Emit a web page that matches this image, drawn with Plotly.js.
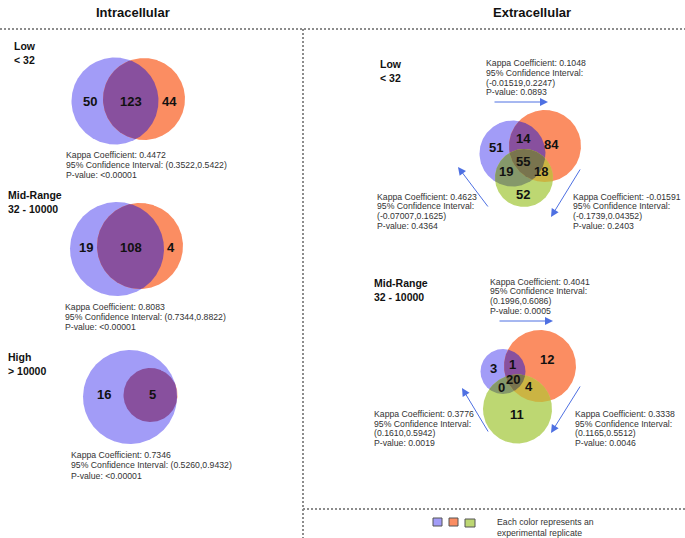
<!DOCTYPE html>
<html>
<head>
<meta charset="utf-8">
<script src="https://cdn.plot.ly/plotly-3.0.1.min.js"></script>
<style>html,body{margin:0;padding:0;background:#fff;}#chart{width:685px;height:538px;}</style>
</head>
<body>
<div id="chart"></div>
<script>
// ---------------- DATA ----------------
const panelTitles = ['Intracellular', 'Extracellular'];

const intraGroups = ['Low', 'Mid-Range', 'High'];
const intraRanges = ['< 32', '32 - 10000', '> 10000'];
const intraOnlyA  = [50, 19, 16];
const intraShared = [123, 108, 5];
const intraOnlyB  = [44, 4, null];
const intraKappa  = ['0.4472', '0.8083', '0.7346'];
const intraCI     = ['(0.3522,0.5422)', '(0.7344,0.8822)', '(0.5260,0.9432)'];
const intraP      = ['<0.00001', '<0.00001', '<0.00001'];

const extGroups   = ['Low', 'Mid-Range'];
const extRanges   = ['< 32', '32 - 10000'];
const extRegions  = ['A', 'AB', 'B', 'ABC', 'AC', 'BC', 'C'];
const extLowCounts = [51, 14, 84, 55, 19, 18, 52];
const extMidCounts = [3, 1, 12, 20, 0, 4, 11];
// comparisons: top (rep1 vs rep2), right (rep2 vs rep3), left (rep3 vs rep1)
const extLowKappa = ['0.1048', '-0.01591', '0.4623'];
const extLowCI    = ['(-0.01519,0.2247)', '(-0.1739,0.04352)', '(-0.07007,0.1625)'];
const extLowP     = ['0.0893', '0.2403', '0.4364'];
const extMidKappa = ['0.4041', '0.3338', '0.3776'];
const extMidCI    = ['(0.1996,0.6086)', '(0.1165,0.5512)', '(0.1610,0.5942)'];
const extMidP     = ['0.0005', '0.0046', '0.0019'];

const legendText = ['Each color represents an', 'experimental replicate'];

// ---------------- STYLE / LAYOUT CONFIG ----------------
const FONT = 'Liberation Sans, Arial, sans-serif';
const COL = {A: '#a29cf7', B: '#fb8d62', C: '#bdd772',
             AB: '#88509e', AC: '#85986a', BC: '#cbb443', ABC: '#79744e'};

const intraGeom = [
  {A: [115, 101, 43.5], B: [144, 99, 41], lab: [[90,101],[131,101],[169,101]], txt: [64, 154.5], grp: [12, 46]},
  {A: [117, 249, 47],   B: [140, 246, 43], lab: [[86,247],[131,247],[171,247]], txt: [63, 306.5], grp: [6, 195]},
  {A: [130, 397, 47],   B: [150.5, 395, 27], lab: [[104,394],[152,394],[0,0]], txt: [69, 455], grp: [6, 357]}
];
const extGeom = [
  {A: [512.5, 153.5, 33], B: [545, 146, 36], C: [524, 178, 29],
   lab: {A:[496,147], AB:[523,138], B:[551,144], ABC:[523,161], AC:[506,171], BC:[541,171], C:[523,194]},
   txt: [[484, 63.3], [570.7, 196.7], [375, 196.7]],
   arrows: [[493,102,548,102],[581,168,551,217],[489,208,458,167]], grp: [378, 64]},
  {A: [503, 371.5, 22.5], B: [540, 366, 36], C: [517.5, 409, 34.5],
   lab: {A:[493,368], AB:[512,364], B:[547,359], ABC:[513,379], AC:[501,387], BC:[529,386], C:[517,414]},
   txt: [[488, 281.7], [573, 414], [372, 414]],
   arrows: [[498,321,553,321],[581,385,551,433],[489,433,462,388]], grp: [372, 283]}
];

// ---------------- HELPERS ----------------
function inside(p, c) { const dx = p[0]-c[0], dy = p[1]-c[1]; return dx*dx + dy*dy <= c[2]*c[2] + 1e-6; }
function regionPoly(circles) {
  const N = 720, pts = [];
  circles.forEach((c, i) => {
    for (let k = 0; k < N; k++) {
      const t = 2*Math.PI*k/N;
      const p = [c[0] + c[2]*Math.cos(t), c[1] + c[2]*Math.sin(t)];
      if (circles.every((o, j) => j === i || inside(p, o))) pts.push(p);
    }
  });
  if (!pts.length) return null;
  const cx = pts.reduce((s,p)=>s+p[0],0)/pts.length, cy = pts.reduce((s,p)=>s+p[1],0)/pts.length;
  pts.sort((a,b) => Math.atan2(a[1]-cy, a[0]-cx) - Math.atan2(b[1]-cy, b[0]-cx));
  pts.push(pts[0]);
  return {x: pts.map(p=>p[0]), y: pts.map(p=>p[1])};
}
const traces = [];
function addRegion(circles, color) {
  const poly = regionPoly(circles);
  if (!poly) return;
  traces.push({type: 'scatter', mode: 'lines', x: poly.x, y: poly.y, fill: 'toself',
    fillcolor: color, line: {width: 0, color: 'rgba(0,0,0,0)'}, hoverinfo: 'skip', showlegend: false});
}
const annotations = [];
function txt(x, y, text, size, opts) {
  annotations.push(Object.assign({x, y, xref: 'x', yref: 'y', text: text, showarrow: false,
    xanchor: 'left', yanchor: 'middle', font: {family: FONT, size: size, color: '#2a2a2a'}}, opts || {}));
}
function statBlock(x, y, lines, gap) {
  lines.forEach((l, i) => txt(x, y + i*gap, l, 8.7, {font: {family: FONT, size: 8.7, color: '#333'}}));
}
function groupLabel(x, y, a, b) {
  txt(x, y, '<b>' + a + '</b>', 10.5, {font: {family: FONT, size: 10.5, color: '#111'}});
  txt(x, y + 13.5, '<b>' + b + '</b>', 10.5, {font: {family: FONT, size: 10.5, color: '#111'}});
}
function count(x, y, v) {
  if (v === null || v === undefined) return;
  txt(x, y, '<b>' + v + '</b>', 13, {xanchor: 'center', font: {family: FONT, size: 13, color: '#111'}});
}

// ---------------- INTRACELLULAR ----------------
intraGroups.forEach((g, i) => {
  const G = intraGeom[i];
  if (i === 2) { addRegion([G.B], COL.B); addRegion([G.A], COL.A); }
  else { addRegion([G.A], COL.A); addRegion([G.B], COL.B); }
  addRegion([G.A, G.B], COL.AB);
  count(G.lab[0][0], G.lab[0][1], intraOnlyA[i]);
  count(G.lab[1][0], G.lab[1][1], intraShared[i]);
  count(G.lab[2][0], G.lab[2][1], intraOnlyB[i]);
  groupLabel(G.grp[0], G.grp[1], g, intraRanges[i]);
  statBlock(G.txt[0], G.txt[1], ['Kappa Coefficient: ' + intraKappa[i],
    '95% Confidence Interval: ' + intraCI[i], 'P-value: ' + intraP[i]], 10.3);
});

// ---------------- EXTRACELLULAR ----------------
const extCounts = [extLowCounts, extMidCounts];
const extK = [extLowKappa, extMidKappa], extC = [extLowCI, extMidCI], extPv = [extLowP, extMidP];
extGroups.forEach((g, i) => {
  const G = extGeom[i];
  addRegion([G.A], COL.A); addRegion([G.B], COL.B); addRegion([G.C], COL.C);
  addRegion([G.A, G.B], COL.AB); addRegion([G.A, G.C], COL.AC); addRegion([G.B, G.C], COL.BC);
  addRegion([G.A, G.B, G.C], COL.ABC);
  extRegions.forEach((r, k) => count(G.lab[r][0], G.lab[r][1], extCounts[i][k]));
  groupLabel(G.grp[0], G.grp[1], g, extRanges[i]);
  for (let k = 0; k < 3; k++) {
    statBlock(G.txt[k][0], G.txt[k][1], ['Kappa Coefficient: ' + extK[i][k],
      '95% Confidence Interval:', extC[i][k], 'P-value: ' + extPv[i][k]], 9.6);
    const a = G.arrows[k];
    annotations.push({x: a[2], y: a[3], ax: a[0], ay: a[1], xref: 'x', yref: 'y', axref: 'x', ayref: 'y',
      text: '', showarrow: true, arrowhead: 2, arrowsize: 1.6, arrowwidth: 1, arrowcolor: '#4e70e2', standoff: 0, startstandoff: 0});
  }
});

// ---------------- TITLES / LEGEND ----------------
txt(133, 12, '<b>' + panelTitles[0] + '</b>', 13, {xanchor: 'center', font: {family: FONT, size: 13, color: '#111'}});
txt(532, 12, '<b>' + panelTitles[1] + '</b>', 13, {xanchor: 'center', font: {family: FONT, size: 13, color: '#111'}});
statBlock(495, 522, legendText, 11);

const dotLine = {color: '#8c8c8c', width: 2, dash: '2px,2px'};
const shapes = [
  {type: 'line', xref: 'x', yref: 'y', x0: 0, x1: 685, y0: 29, y1: 29, line: dotLine},
  {type: 'line', xref: 'x', yref: 'y', x0: 303, x1: 303, y0: 29, y1: 538, line: dotLine},
  {type: 'line', xref: 'x', yref: 'y', x0: 303, x1: 685, y0: 509, y1: 509, line: dotLine},
  {type: 'rect', xref: 'x', yref: 'y', x0: 433, x1: 442, y0: 518, y1: 526, fillcolor: COL.A, line: {color: '#555', width: 1}},
  {type: 'rect', xref: 'x', yref: 'y', x0: 449, x1: 458, y0: 518, y1: 526, fillcolor: COL.B, line: {color: '#555', width: 1}},
  {type: 'rect', xref: 'x', yref: 'y', x0: 465, x1: 475, y0: 519, y1: 527, fillcolor: COL.C, line: {color: '#555', width: 1}}
];

const layout = {
  width: 685, height: 538, margin: {l: 0, r: 0, t: 0, b: 0},
  paper_bgcolor: '#fff', plot_bgcolor: '#fff', showlegend: false,
  xaxis: {range: [0, 685], visible: false, fixedrange: true},
  yaxis: {range: [538, 0], visible: false, fixedrange: true},
  shapes: shapes, annotations: annotations
};
Plotly.newPlot('chart', traces, layout, {staticPlot: true, displayModeBar: false});
</script>
</body>
</html>
